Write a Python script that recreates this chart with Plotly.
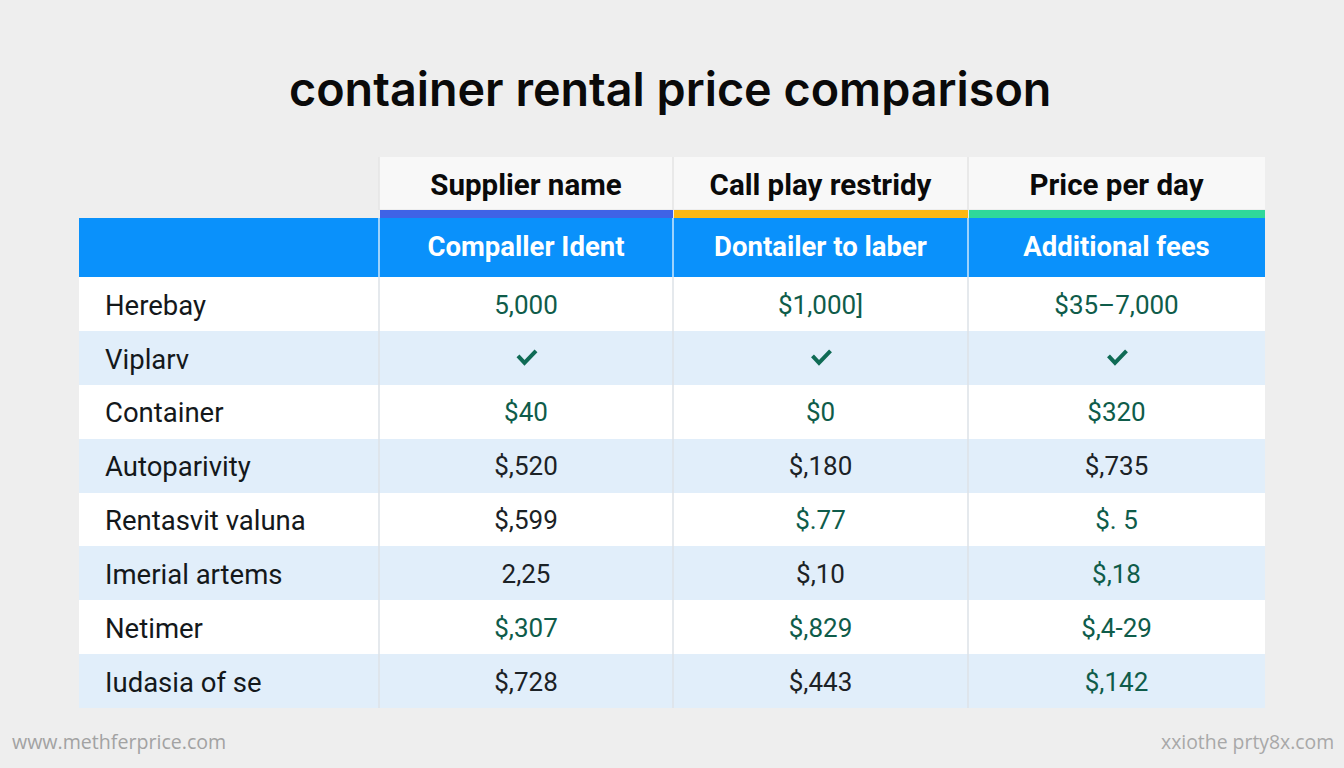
import plotly.graph_objects as go

W, H = 1344, 768
BG = "#eeeeee"
BLUE = "#0a91fb"
ALT = "#e1eefa"
DARK = "#1c2226"
GREEN = "#0f5c4a"
CHECK_COLOR = "#0f6b55"
CLEAR = "rgba(0,0,0,0)"
CHECK = "✔"

title = "container rental price comparison"
top_headers = ["Supplier name", "Call play restridy", "Price per day"]
sub_headers = ["Compaller Ident", "Dontailer to laber", "Additional fees"]
strip_colors = ["#3f63e6", "#fdb813", "#2fd89a"]
suppliers = ["Herebay", "Viplarv", "Container", "Autoparivity", "Rentasvit valuna",
             "Imerial artems", "Netimer", "Iudasia of se"]
col_a = ["5,000", CHECK, "$40", "$,520", "$,599", "2,25", "$,307", "$,728"]
col_b = ["$1,000]", CHECK, "$0", "$,180", "$.77", "$,10", "$,829", "$,443"]
col_c = ["$35–7,000", CHECK, "$320", "$,735", "$. 5", "$,18", "$,4-29", "$,142"]
color_a = [GREEN, GREEN, GREEN, DARK, DARK, DARK, GREEN, DARK]
color_b = [GREEN, GREEN, GREEN, DARK, GREEN, DARK, GREEN, DARK]
color_c = [GREEN, GREEN, GREEN, DARK, GREEN, GREEN, GREEN, GREEN]
footer_left = "www.methferprice.com"
footer_right = "xxiothe prty8x.com"

# pixel geometry of the table
xs = [79, 379, 673, 968, 1265]
pad = 18
y_top, y_strip, y_blue, y_body, y_end = 157, 210, 218, 277, 708
drop_top, drop_body = 8, 9  # table text sits lower in its cell than plotly's top-aligned default

def px(x): return x / W
def py(y): return 1 - y / H

widths = [pad, xs[1] - xs[0] - pad] + [xs[i + 1] - xs[i] for i in range(1, 4)]
dom_x = [px(xs[0]), px(xs[-1])]
row_h = (y_end - y_body) / len(suppliers)
row_fill = ["#ffffff" if i % 2 == 0 else ALT for i in range(len(suppliers))]
blank = [""] * len(suppliers)
blank_head = [""] * 5

def no_marks(values):
    return ["" if v == CHECK else v for v in values]

fig = go.Figure()
# Fills only
fig.add_trace(go.Table(
    domain=dict(x=dom_x, y=[py(y_strip), py(y_top)]),
    columnwidth=widths,
    header=dict(values=blank_head, height=y_strip - y_top,
                fill_color=[BG, BG, "#f8f8f8", "#f8f8f8", "#f8f8f8"], line_width=0),
    cells=dict(values=[[], [], [], [], []], height=1, line_width=0),
))
fig.add_trace(go.Table(
    domain=dict(x=dom_x, y=[py(y_end) - 0.004, py(y_blue)]),
    columnwidth=widths,
    header=dict(values=blank_head, height=y_body - y_blue, fill_color=BLUE, line_width=0),
    cells=dict(values=[blank] * 5, height=row_h, fill_color=[row_fill] * 5, line_width=0),
))
# Text only, on top of the fills
fig.add_trace(go.Table(
    domain=dict(x=dom_x, y=[py(y_strip + drop_top), py(y_top + drop_top)]),
    columnwidth=widths,
    header=dict(values=["", ""] + top_headers, height=y_strip - y_top,
                fill_color=CLEAR, line_width=0, align="center",
                font=dict(family="Roboto", size=29.5, color="#0a0a0a", weight=700)),
    cells=dict(values=[[], [], [], [], []], height=1, line_width=0, fill_color=CLEAR),
))
fig.add_trace(go.Table(
    domain=dict(x=dom_x, y=[py(y_end + drop_body) - 0.004, py(y_blue + drop_body)]),
    columnwidth=widths,
    header=dict(values=["", ""] + sub_headers, height=y_body - y_blue,
                fill_color=CLEAR, line_width=0, align="center",
                font=dict(family="Roboto", size=27.5, color="#ffffff", weight=700)),
    cells=dict(values=[blank, suppliers, no_marks(col_a), no_marks(col_b), no_marks(col_c)],
               height=row_h, fill_color=CLEAR, line_width=0,
               align=["left", "left", "center", "center", "center"],
               font=dict(family="Roboto", size=[26, 27.5, 26, 26, 26],
                         color=[[DARK] * 8, ["#14181b"] * 8, color_a, color_b, color_c])),
))

shapes = []
for i in range(3):
    shapes.append(dict(type="rect", xref="paper", yref="paper", layer="above",
                       x0=px(xs[i + 1] + 1), x1=px(xs[i + 2]), y0=py(y_blue), y1=py(y_strip),
                       fillcolor=strip_colors[i], line_width=0))
for x in xs[1:4]:
    shapes.append(dict(type="line", xref="paper", yref="paper", layer="above",
                       x0=px(x), x1=px(x), y0=py(y_end), y1=py(y_body),
                       line=dict(color="#dde2e7", width=1.5)))
    shapes.append(dict(type="line", xref="paper", yref="paper", layer="above",
                       x0=px(x), x1=px(x), y0=py(y_body), y1=py(y_blue),
                       line=dict(color="#cfe8fd", width=1.5)))
    shapes.append(dict(type="line", xref="paper", yref="paper", layer="above",
                       x0=px(x), x1=px(x), y0=py(y_strip), y1=py(y_top),
                       line=dict(color="#e4e4e4", width=1.5)))

# Check-mark icons wherever a value column holds the check symbol
for c, col in enumerate([col_a, col_b, col_c]):
    cx = (xs[c + 1] + xs[c + 2]) / 2 + 1
    for r, v in enumerate(col):
        if v == CHECK:
            cy = y_body + row_h * (r + 0.5)
            pts = [(cx - 9, cy - 2), (cx - 2.5, cy + 5), (cx + 9, cy - 7)]
            path = "M" + " L".join(f"{px(a):.5f},{py(b):.5f}" for a, b in pts)
            shapes.append(dict(type="path", path=path, xref="paper", yref="paper", layer="above",
                               line=dict(color=CHECK_COLOR, width=4)))

annotations = [
    dict(text=title, x=px(670), y=py(89), xref="paper", yref="paper", showarrow=False,
         xanchor="center", yanchor="middle",
         font=dict(family="Inter", size=46.7, color="#0a0a0a", weight=600)),
    dict(text=footer_left, x=px(10), y=py(741), xref="paper", yref="paper", showarrow=False,
         xanchor="left", yanchor="middle",
         font=dict(family="Open Sans", size=19.6, color="#a2a2a2")),
    dict(text=footer_right, x=px(1336), y=py(741), xref="paper", yref="paper", showarrow=False,
         xanchor="right", yanchor="middle",
         font=dict(family="Open Sans", size=19.4, color="#a8a8a8")),
]

fig.update_layout(width=W, height=H, margin=dict(l=0, r=0, t=0, b=0),
                  paper_bgcolor=BG, plot_bgcolor=BG, showlegend=False,
                  shapes=shapes, annotations=annotations)
fig.write_html("out.html", config=dict(displayModeBar=False),
               post_script="document.body.style.margin='0';"
                           "document.documentElement.style.background='#eeeeee';"
                           "document.documentElement.style.overflow='hidden';")
